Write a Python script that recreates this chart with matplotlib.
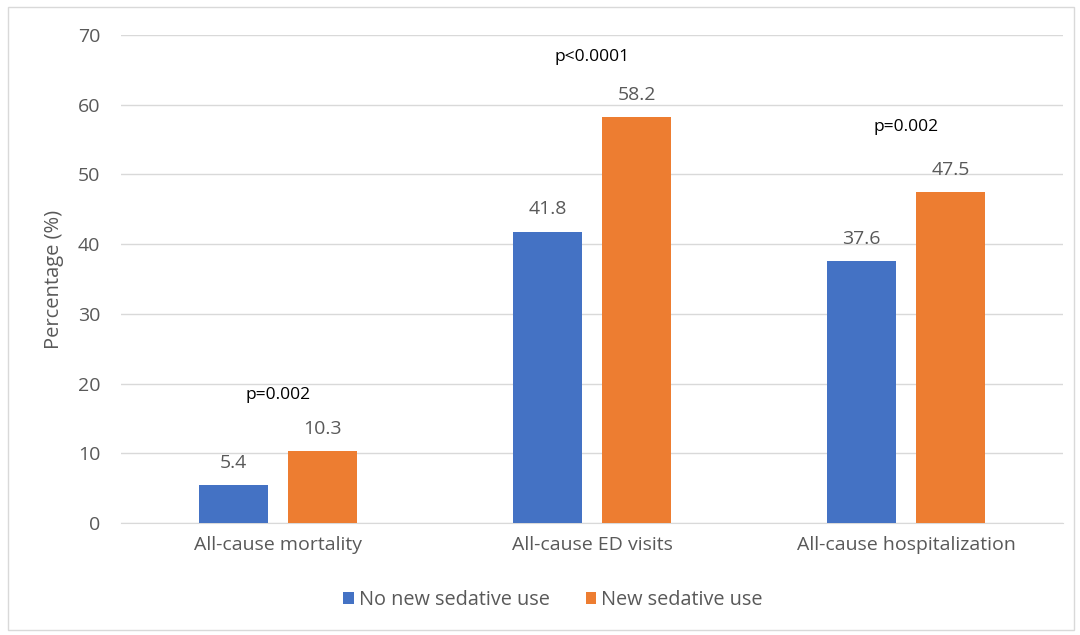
import numpy as np
import matplotlib.pyplot as plt
from matplotlib.patches import Rectangle

plt.rcParams['font.family'] = ['Open Sans', 'DejaVu Sans']

# data
categories = ['All-cause mortality', 'All-cause ED visits', 'All-cause hospitalization']
no_new = [5.4, 41.8, 37.6]
new_use = [10.3, 58.2, 47.5]
p_values = ['p=0.002', 'p<0.0001', 'p=0.002']
p_heights = [18.4, 66.9, 56.8]
series_names = ['No new sedative use', 'New sedative use']

blue = '#4472C4'
orange = '#ED7D31'
grey = '#595959'

fig = plt.figure(figsize=(10.8, 6.35), dpi=100)
ax = fig.add_axes([121 / 1080, 1 - 523 / 635, 942 / 1080, 488 / 635])

x = np.arange(len(categories))
w = 0.22
off = 0.142
b1 = ax.bar(x - off, no_new, w, color=blue, label=series_names[0], zorder=3)
b2 = ax.bar(x + off, new_use, w, color=orange, label=series_names[1], zorder=3)

for bars, vals in [(b1, no_new), (b2, new_use)]:
    for r, v in zip(bars, vals):
        ax.annotate(f'{v}', (r.get_x() + r.get_width() / 2, v), xytext=(0, 16),
                    textcoords='offset points', ha='center', va='center',
                    fontsize=14, color=grey)

for i, (p, h) in enumerate(zip(p_values, p_heights)):
    ax.text(x[i], h, p, ha='center', va='center', fontsize=12.5, color='black')

ax.set_xlim(-0.5, 2.5)
ax.set_ylim(0, 70)
ax.set_yticks(range(0, 71, 10))
ax.set_xticks(x)
ax.set_xticklabels(categories)
ax.tick_params(length=0, labelsize=14, labelcolor=grey)
ax.tick_params(axis='x', pad=9)
ax.tick_params(axis='y', pad=15)
ax.grid(axis='y', color='#d9d9d9', linewidth=1, zorder=0)
for s in ['top', 'right', 'left']:
    ax.spines[s].set_visible(False)
ax.spines['bottom'].set_color('#d9d9d9')
ax.set_ylabel('Percentage (%)', fontsize=14.5, color=grey, labelpad=10)

fig.legend(handles=[b1, b2], loc='center', bbox_to_anchor=(553 / 1080, 1 - 600 / 635),
           ncol=2, frameon=False, fontsize=14.3, labelcolor=grey,
           handlelength=0.55, handleheight=0.55, handletextpad=0.25, columnspacing=1.8)

fig.patches.append(Rectangle((8 / 1080, 1 - 630 / 635), 1066 / 1080, 623 / 635,
                             transform=fig.transFigure, fill=False,
                             edgecolor='#d9d9d9', linewidth=1))

fig.savefig('out.png', dpi=100)
